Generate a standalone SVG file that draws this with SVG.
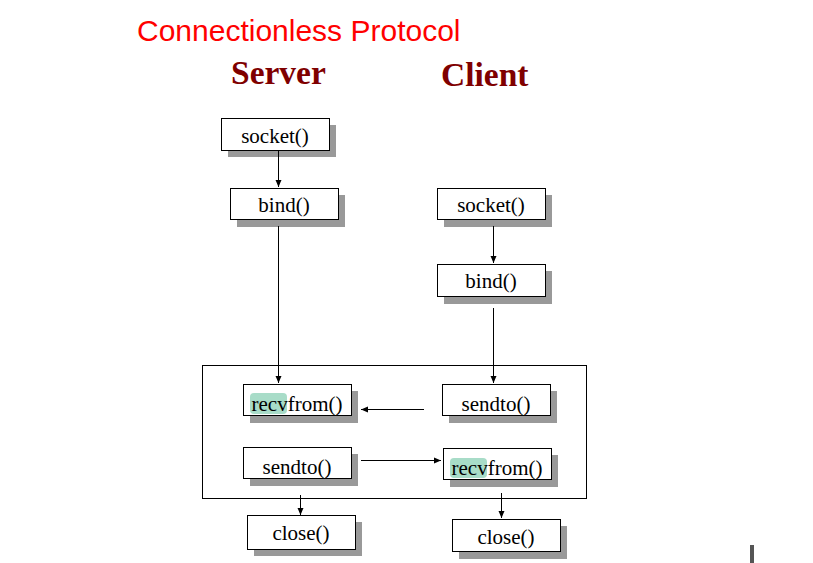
<svg xmlns="http://www.w3.org/2000/svg" width="813" height="563" viewBox="0 0 813 563">
<style>
.box{fill:#fff;stroke:#000;stroke-width:1}
.sh{fill:#999}
.t{font-family:"Liberation Serif",serif;font-size:21px;fill:#000;text-anchor:middle}
.c{stroke:#000;stroke-width:1;fill:none;marker-end:url(#ah)}
.hl{fill:#a8dcc8}
</style>
<defs>
<marker id="ah" markerWidth="8" markerHeight="8" refX="7" refY="4" orient="auto" markerUnits="userSpaceOnUse">
<path d="M0,1 L7,4 L0,7 Z" fill="#000"/>
</marker>
</defs>
<rect width="813" height="563" fill="#fff"/>
<text x="137" y="41" font-family="Liberation Sans,Arial,sans-serif" font-size="30" fill="#ff0000">Connectionless Protocol</text>
<text x="231" y="84" font-family="Liberation Serif,serif" font-size="33.5" font-weight="bold" fill="#7f0000">Server</text>
<text x="441" y="86" font-family="Liberation Serif,serif" font-size="33.5" font-weight="bold" fill="#7f0000">Client</text>
<rect x="202.5" y="365.5" width="384" height="133" fill="none" stroke="#000" stroke-width="1"/>
<g id="server-socket"><rect class="sh" x="228" y="125" width="108" height="32"/><rect class="box" x="221.5" y="118.5" width="108" height="32"/><text class="t" x="275" y="143">socket()</text></g>
<g id="server-bind"><rect class="sh" x="237" y="195" width="108" height="32"/><rect class="box" x="230.5" y="188.5" width="108" height="31"/><text class="t" x="284" y="212">bind()</text></g>
<g id="client-socket"><rect class="sh" x="444" y="195" width="108" height="32"/><rect class="box" x="437.5" y="188.5" width="108" height="31"/><text class="t" x="491" y="212">socket()</text></g>
<g id="client-bind"><rect class="sh" x="444" y="271" width="108" height="33"/><rect class="box" x="437.5" y="264.5" width="108" height="32"/><text class="t" x="491" y="288">bind()</text></g>
<g id="server-recvfrom"><rect class="sh" x="250" y="391" width="108" height="32"/><rect class="box" x="243.5" y="384.5" width="108" height="31"/><rect class="hl" x="250" y="393" width="37" height="21" rx="4"/><text class="t" x="297" y="411">recvfrom()</text></g>
<g id="client-sendto"><rect class="sh" x="449" y="391" width="108" height="32"/><rect class="box" x="442.5" y="384.5" width="108" height="31"/><text class="t" x="496" y="411">sendto()</text></g>
<g id="server-sendto"><rect class="sh" x="250" y="454" width="108" height="32"/><rect class="box" x="243.5" y="447.5" width="108" height="31"/><text class="t" x="297" y="474">sendto()</text></g>
<g id="client-recvfrom"><rect class="sh" x="450" y="455" width="108" height="32"/><rect class="box" x="443.5" y="448.5" width="108" height="31"/><rect class="hl" x="450" y="458" width="37" height="20" rx="4"/><text class="t" x="497" y="475">recvfrom()</text></g>
<g id="server-close"><rect class="sh" x="254" y="522" width="108" height="34"/><rect class="box" x="247.5" y="515.5" width="108" height="34"/><text class="t" x="301" y="540">close()</text></g>
<g id="client-close"><rect class="sh" x="459" y="526" width="108" height="33"/><rect class="box" x="452.5" y="519.5" width="108" height="32"/><text class="t" x="506" y="544">close()</text></g>
<g id="connectors">
<line class="c" x1="278.5" y1="150" x2="278.5" y2="187"/>
<line class="c" x1="278.5" y1="226" x2="278.5" y2="383"/>
<line class="c" x1="493.5" y1="226" x2="493.5" y2="263"/>
<line class="c" x1="493.5" y1="308" x2="493.5" y2="383"/>
<line class="c" x1="424" y1="409.5" x2="361" y2="409.5"/>
<line class="c" x1="361" y1="460.5" x2="441" y2="460.5"/>
<line class="c" x1="300.5" y1="495" x2="300.5" y2="515"/>
<line class="c" x1="501.5" y1="493" x2="501.5" y2="518"/>
</g>
<rect x="750" y="545" width="4" height="18" fill="#555"/>
</svg>
